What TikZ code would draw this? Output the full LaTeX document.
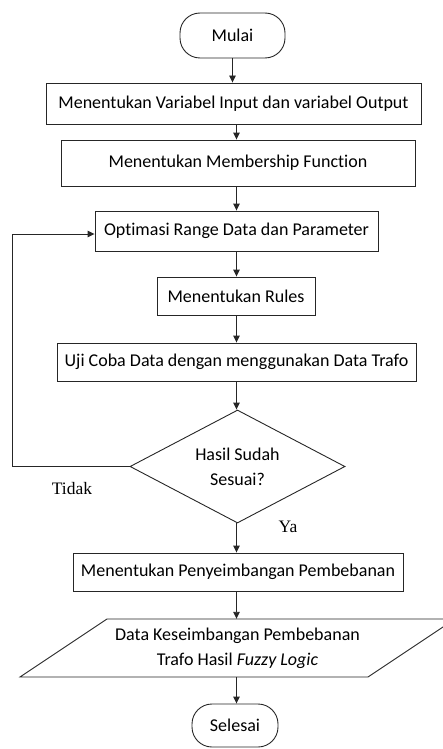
\documentclass[tikz,border=0pt]{standalone}
\usepackage{fontspec}
\setmainfont{Carlito}[Ligatures={NoCommon}]
\newfontfamily\labfont{Liberation Serif}
\usetikzlibrary{arrows.meta,shapes.geometric}
\tikzset{
  ln/.style={line width=0.9pt, draw=black!85},
  arr/.style={ln, -{Triangle[length=7pt,width=6.5pt]}},
  boxx/.style={ln, rectangle, inner sep=0pt, font=\fontsize{18}{25}\selectfont},
  term/.style={ln, rectangle, rounded corners=20pt, inner sep=0pt, font=\fontsize{18}{25}\selectfont},
  lab/.style={font=\labfont\fontsize{17.5}{20}\selectfont, inner sep=0pt},
}
\begin{document}
\begin{tikzpicture}[x=1pt,y=-1pt]
\useasboundingbox (0,0) rectangle (443,749);
\node[term, minimum width=105, minimum height=45] (mulai) at (232.5,35.5) {Mulai};
\node[boxx, minimum width=375, minimum height=41] (b1) at (233.5,103.5) {Menentukan Variabel Input dan variabel Output};
\node[boxx, minimum width=354, minimum height=46] (b2) at (238,163) {Menentukan Membership Function};
\node[boxx, minimum width=283, minimum height=40] (b3) at (236.5,231) {Optimasi Range Data dan Parameter};
\node[boxx, minimum width=158, minimum height=38] (b4) at (236,296) {Menentukan Rules};
\node[boxx, minimum width=359, minimum height=38] (b5) at (236.5,362) {Uji Coba Data dengan menggunakan Data Trafo};
\node[ln, diamond, aspect=1.9, minimum width=215, minimum height=113, inner sep=0pt, align=center, font=\fontsize{18}{25}\selectfont] (dec) at (237.5,466.5) {Hasil Sudah\\Sesuai?};
\node[boxx, minimum width=330, minimum height=38] (b6) at (238,572) {Menentukan Penyeimbangan Pembebanan};
\node[inner sep=0pt, minimum width=260, minimum height=58, align=center, font=\fontsize{18}{25}\selectfont] (para) at (237.5,648) {Data Keseimbangan Pembebanan\\Trafo Hasil \textit{Fuzzy Logic}};
\draw[ln] (107,619) -- (455,619) -- (368,677) -- (20,677) -- cycle;
\node[term, minimum width=86, minimum height=43] (sel) at (235,725.5) {Selesai};
\coordinate (lp1) at (12,466.5);
\coordinate (lp2) at (12,234);
\draw[arr] (mulai.south) -- (mulai.south |- b1.north);
\draw[arr] (b1.south -| b3.south) -- (b3.south |- b2.north);
\draw[arr] (b2.south -| b3.south) -- (b3.north);
\draw[arr] (b3.south) -- (b3.south |- b4.north);
\draw[arr] (b4.south -| b3.south) -- (b3.south |- b5.north);
\draw[arr] (b5.south -| b3.south) -- (b3.south |- dec.north);
\draw[arr] (dec.west) -- (lp1) -- (lp2) -- (lp2 -| b3.west);
\draw[arr] (dec.south -| b3.south) -- (b3.south |- b6.north);
\draw[arr] (b6.south -| b3.south) -- (b3.south |- para.north);
\draw[arr] (para.south -| b3.south) -- (b3.south |- sel.north);
\node[lab] (tidak) at (72,489) {Tidak};
\node[lab] (ya) at (288,527) {Ya};
\end{tikzpicture}
\end{document}
